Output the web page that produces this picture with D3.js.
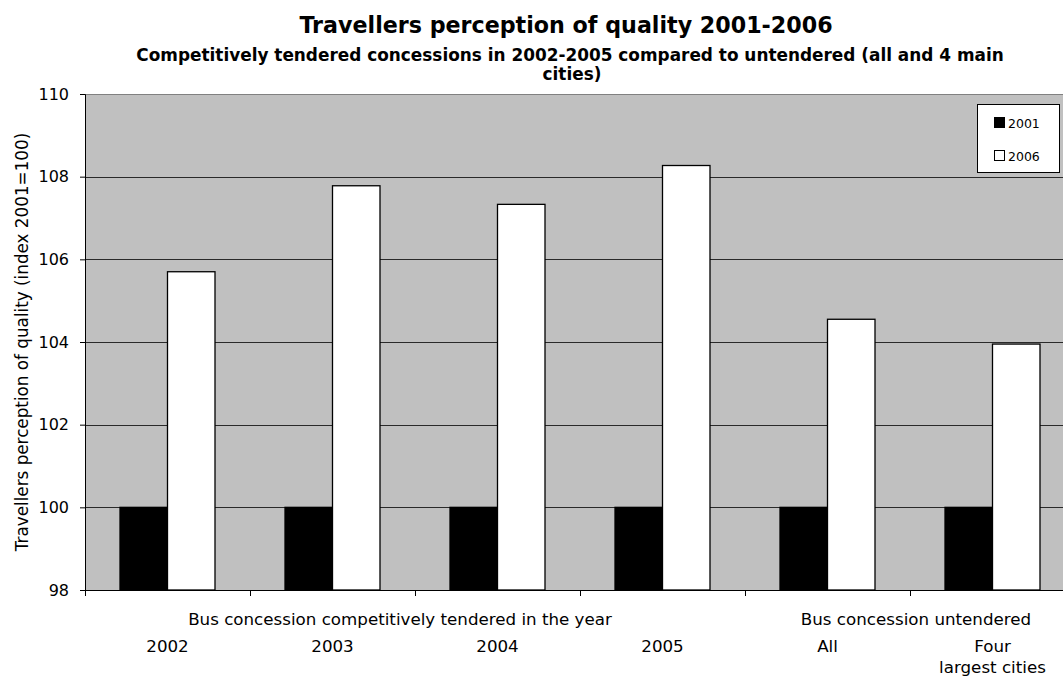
<!DOCTYPE html>
<html><head><meta charset="utf-8">
<script src="https://cdn.jsdelivr.net/npm/d3@7"></script>
<style>body{margin:0;background:#fff}svg{display:block}</style>
</head><body>
<svg id="c" width="1063" height="679"></svg>
<script>
const categories = ["2002","2003","2004","2005","All","Four|largest cities"];
const series = ["2001","2006"];
const values2001 = [100,100,100,100,100,100];
const values2006 = [105.70,107.78,107.33,108.27,104.55,103.95];
const yTicks = [98,100,102,104,106,108,110];
const groups = [
  {label:"Bus concession competitively tendered in the year", from:0, to:3},
  {label:"Bus concession untendered", from:4, to:5}
];
const title = "Travellers perception of quality 2001-2006";
const subtitle1 = "Competitively tendered concessions in 2002-2005 compared to untendered (all and 4 main";
const subtitle2 = "cities)";
const yTitle = "Travellers perception of quality (index 2001=100)";

const svg = d3.select("#c");
const font = "DejaVu Sans, Verdana, sans-serif";
const L=85, R=1075, T=94, B=590;

const x = d3.scaleBand().domain(categories).range([L,R]).paddingInner(0).paddingOuter(0);
const xs = d3.scaleBand().domain(series).range([0,x.bandwidth()]).paddingInner(0).paddingOuter(0.737);
const y = d3.scaleLinear().domain([98,110]).range([B,T]);

svg.append("rect").attr("x",L).attr("y",T).attr("width",R-L).attr("height",B-T).attr("fill","#c0c0c0");
svg.append("line").attr("x1",L).attr("x2",R).attr("y1",T+0.5).attr("y2",T+0.5).attr("stroke","#808080");

// gridlines
svg.append("g").selectAll("line").data(yTicks.filter(t=>t>98&&t<110)).join("line")
  .attr("x1",L).attr("x2",R).attr("y1",d=>Math.round(y(d))+0.5).attr("y2",d=>Math.round(y(d))+0.5)
  .attr("stroke","#2a2a2a").attr("stroke-width",1);

// bars
const data = categories.map((c,i)=>({c, v:[values2001[i],values2006[i]]}));
const g = svg.append("g");
data.forEach(d=>{
  series.forEach((s,j)=>{
    g.append("rect")
      .attr("x", x(d.c)+xs(s)).attr("width", xs.bandwidth())
      .attr("y", y(d.v[j])).attr("height", y(98)-y(d.v[j]))
      .attr("fill", j===0?"#000":"#fff").attr("stroke","#000").attr("stroke-width",1.3);
  });
});

// y axis
const ya = svg.append("g").attr("transform",`translate(${L},0)`)
  .call(d3.axisLeft(y).tickValues(yTicks).tickSize(5).tickPadding(11).tickFormat(d3.format("d")));
ya.select(".domain").attr("stroke","#000");
ya.selectAll("text").attr("font-family",font).attr("font-size",16).attr("fill","#000");

// x axis
const bounds = categories.map(c=>x(c)).concat([R]);
svg.append("line").attr("x1",L).attr("x2",R).attr("y1",B+0.5).attr("y2",B+0.5).attr("stroke","#000");
svg.append("g").selectAll("line").data(bounds).join("line")
  .attr("x1",d=>d+0.5).attr("x2",d=>d+0.5).attr("y1",B).attr("y2",B+6).attr("stroke","#000");

svg.append("g").selectAll("text").data(categories).join("text")
  .attr("font-family",font).attr("font-size",16.7).attr("text-anchor","middle")
  .attr("x",d=>x(d)+x.bandwidth()/2).attr("y",652)
  .each(function(d){
    const parts=d.split("|");
    d3.select(this).selectAll("tspan").data(parts).join("tspan")
      .attr("x",x(d)+x.bandwidth()/2).attr("dy",(p,i)=>i===0?0:21).text(p=>p);
  });

svg.append("g").selectAll("text").data(groups).join("text")
  .attr("font-family",font).attr("font-size",16.7).attr("text-anchor","middle")
  .attr("x",d=>(x(categories[d.from])+x(categories[d.to])+x.bandwidth())/2 - (d.from===0?15:-6))
  .attr("y",625).text(d=>d.label);

// titles
svg.append("text").attr("x",566).attr("y",33).attr("text-anchor","middle")
  .attr("font-family",font).attr("font-weight","bold").attr("font-size",22.2).text(title);
svg.append("text").attr("x",570).attr("y",61).attr("text-anchor","middle")
  .attr("font-family",font).attr("font-weight","bold").attr("font-size",16.9).text(subtitle1);
svg.append("text").attr("x",572).attr("y",80).attr("text-anchor","middle")
  .attr("font-family",font).attr("font-weight","bold").attr("font-size",16.9).text(subtitle2);

svg.append("text").attr("transform","translate(28,342) rotate(-90)").attr("text-anchor","middle")
  .attr("font-family",font).attr("font-size",16.8).text(yTitle);

// legend
const lg = svg.append("g");
lg.append("rect").attr("x",977.5).attr("y",104.5).attr("width",82).attr("height",68)
  .attr("fill","#fff").attr("stroke","#000");
series.forEach((s,i)=>{
  const cy = 123 + i*33;
  lg.append("rect").attr("x",994.5).attr("y",cy-5.5).attr("width",10).attr("height",10)
    .attr("fill",i===0?"#000":"#fff").attr("stroke","#000");
  lg.append("text").attr("x",1008).attr("y",cy+4.5).attr("font-family",font).attr("font-size",12.5).text(s);
});
</script>
</body></html>
